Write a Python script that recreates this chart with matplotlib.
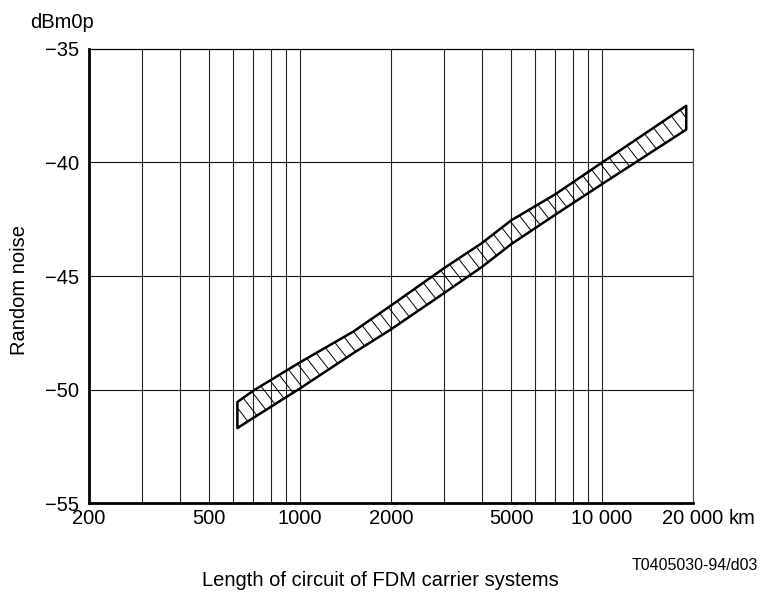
import numpy as np
import matplotlib
matplotlib.use('Agg')
import matplotlib.pyplot as plt
from matplotlib.ticker import FixedLocator, NullLocator
from matplotlib.collections import LineCollection

plt.rcParams['font.family'] = ['Liberation Sans', 'DejaVu Sans']

# band of random noise vs circuit length
length_km = [620, 700, 1000, 1500, 2000, 3000, 4000, 5000, 7000, 10000, 19000]
noise_upper = [-50.55, -50.05, -48.8, -47.45, -46.3, -44.65, -43.55, -42.55, -41.4, -40.0, -37.5]
noise_lower = [-51.7, -51.25, -49.95, -48.4, -47.35, -45.75, -44.6, -43.6, -42.3, -40.95, -38.55]

xtick_vals = [200, 500, 1000, 2000, 5000, 10000, 20000]
xtick_labels = ['200', '500', '1000', '2000', '5000', '10 000', '20 000']
ytick_vals = [-55, -50, -45, -40, -35]
grid_x = [300, 400, 500, 600, 700, 800, 900, 1000, 2000, 3000, 4000, 5000,
          6000, 7000, 8000, 9000, 10000, 20000]

fig = plt.figure(figsize=(7.62, 5.96), dpi=100)
ax = fig.add_axes([0.1168, 0.156, 0.7926, 0.7618])

ax.set_xscale('log')
ax.set_xlim(200, 20000)
ax.set_ylim(-55, -35)

# grid
for gx in grid_x:
    ax.axvline(gx, color='#222222', lw=0.8, zorder=1)
for gy in [-50, -45, -40]:
    ax.axhline(gy, color='#111111', lw=0.8, zorder=1)

# band outline
xs = np.array(length_km, dtype=float)
poly_x = np.concatenate([xs, xs[::-1]])
poly_y = np.concatenate([noise_upper, noise_lower[::-1]])
band = ax.fill(poly_x, poly_y, facecolor='none', edgecolor='black',
               linewidth=1.8, joinstyle='round', zorder=3)[0]

# hatching "\" clipped to the band
step = 13.5 / 604
lean = 0.78 * 454 / 604
segs = [[(c, 1.0), (c + lean, 0.0)] for c in np.arange(-1.0, 2.0, step)]
hatch = LineCollection(segs, transform=ax.transAxes, colors='black',
                       linewidths=0.7, zorder=2)
hatch.set_clip_path(band)
ax.add_collection(hatch)

ax.xaxis.set_major_locator(FixedLocator(xtick_vals))
ax.xaxis.set_minor_locator(NullLocator())
ax.set_xticklabels(xtick_labels)
ax.set_yticks(ytick_vals)
ax.set_yticklabels(['\u221255', '\u221250', '\u221245', '\u221240', '\u221235'])
ax.tick_params(axis='both', which='both', length=0, labelsize=14.5)
ax.tick_params(axis='y', pad=7)
ax.tick_params(axis='x', pad=4)

ax.spines['left'].set_linewidth(2.0)
ax.spines['bottom'].set_linewidth(2.0)
ax.spines['top'].set_linewidth(0.9)
ax.spines['right'].set_linewidth(0.8)
ax.spines['right'].set_color('#444444')

ax.annotate('km', xy=(20000, -55), xycoords='data', xytext=(26, -4),
            textcoords='offset points', ha='left', va='top', fontsize=14.5)

fig.text(30 / 762, 1 - 22 / 596, 'dBm0p', fontsize=14.5, ha='left', va='center')
fig.text(20 / 762, 1 - 290 / 596, 'Random noise', fontsize=14.5, rotation=90,
         ha='center', va='center')
fig.text(380 / 762, 1 - 580 / 596, 'Length of circuit of FDM carrier systems',
         fontsize=14.5, ha='center', va='center')
fig.text(758 / 762, 1 - 566 / 596, 'T0405030-94/d03', fontsize=11.5,
         ha='right', va='center')

fig.savefig('out.png', dpi=100)
